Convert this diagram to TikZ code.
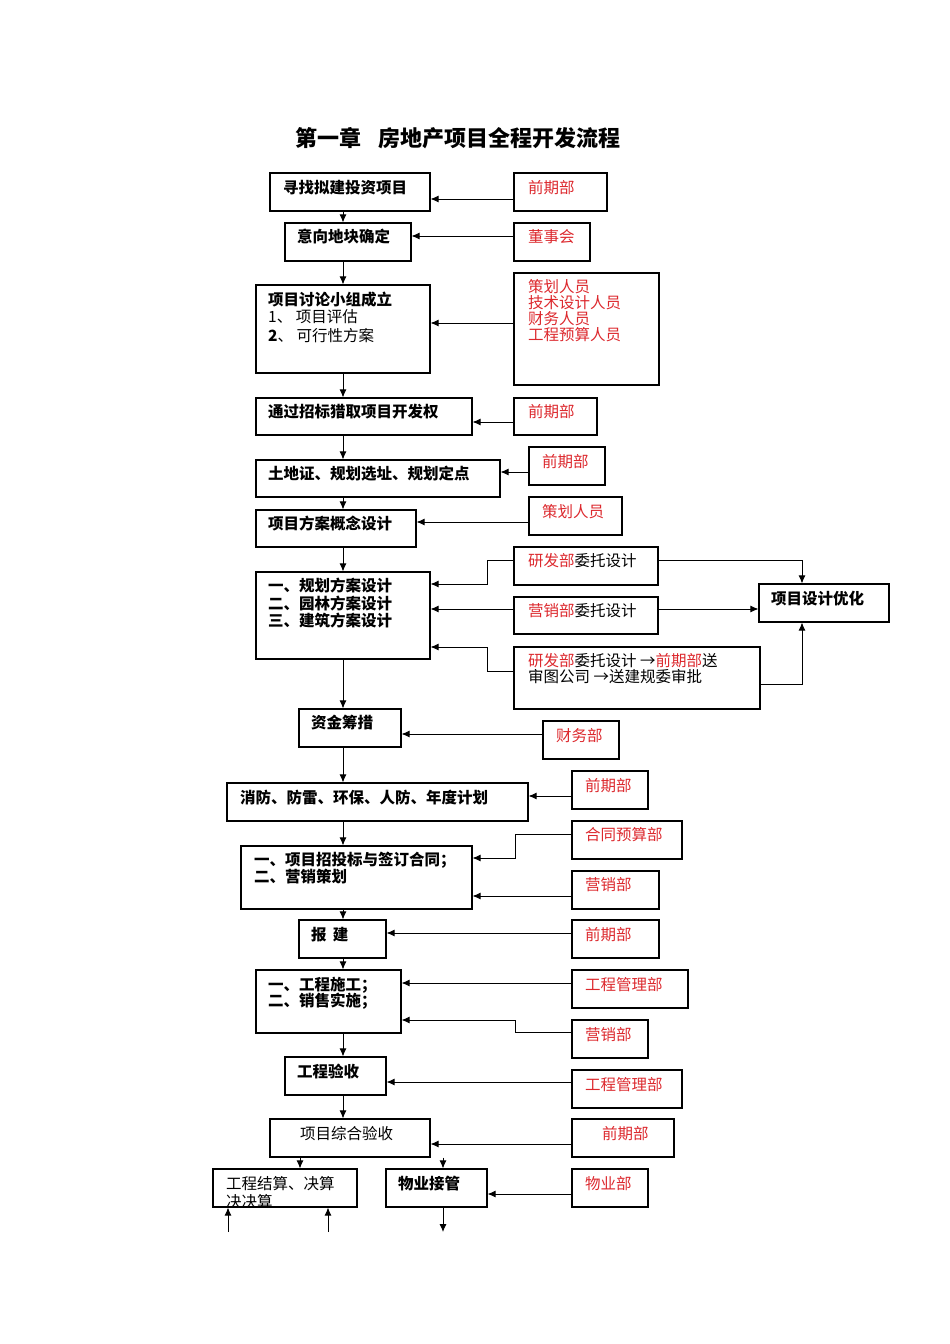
\documentclass[tikz,border=0pt]{standalone}
\usepackage{fontspec}
\setmainfont{Noto Sans CJK SC}
\usetikzlibrary{fit,arrows.meta}
\definecolor{rd}{RGB}{220,40,45}
\begin{document}
\begin{tikzpicture}[x=1pt,y=-1pt,
  box/.style={draw,line width=1.1pt,inner sep=0pt},
  arr/.style={line width=0.9pt,-{Latex[length=8pt,width=7pt]}},
  ln/.style={line width=0.9pt},
  bt/.style={anchor=west,inner sep=0pt,font=\fontsize{15.5}{17}\selectfont\bfseries,align=left},
  rt/.style={anchor=west,inner sep=0pt,font=\fontsize{15.5}{17}\selectfont,text=rd,align=left},
  nt/.style={anchor=west,inner sep=0pt,font=\fontsize{15.5}{17}\selectfont,align=left}]
\useasboundingbox (0,0) rectangle (950,1344);
\node[font=\fontsize{22}{24}\selectfont\bfseries] (title) at (458,138) {第一章\hspace{0.8em}房地产项目全程开发流程};
% left column
\node[box,fit={(270,173)(430,211)}] (A1) {};
\node[box,fit={(285,223)(411,261)}] (A2) {};
\node[box,fit={(256,285)(430,373)}] (A3) {};
\node[box,fit={(256,398)(472,435)}] (A4) {};
\node[box,fit={(256,460)(500,497)}] (A5) {};
\node[box,fit={(256,510)(416,547)}] (A6) {};
\node[box,fit={(256,572)(430,659)}] (A7) {};
\node[box,fit={(759,584)(889,622)}] (A8) {};
\node[box,fit={(299,709)(401,747)}] (A9) {};
\node[box,fit={(227,783)(528,821)}] (A10) {};
\node[box,fit={(241,846)(472,909)}] (A11) {};
\node[box,fit={(299,920)(386,958)}] (A12) {};
\node[box,fit={(256,970)(401,1033)}] (A13) {};
\node[box,fit={(285,1057)(386,1095)}] (A14) {};
\node[box,fit={(270,1119)(430,1157)}] (A15) {};
\node[box,fit={(213,1169)(357,1207)}] (A16) {};
\node[box,fit={(386,1169)(487,1207)}] (A17) {};
% right column
\node[box,fit={(514,173)(607,211)}] (R1) {};
\node[box,fit={(514,223)(590,261)}] (R2) {};
\node[box,fit={(514,273)(659,385)}] (R3) {};
\node[box,fit={(514,398)(597,435)}] (R4) {};
\node[box,fit={(529,447)(605,485)}] (R5) {};
\node[box,fit={(529,497)(622,535)}] (R6) {};
\node[box,fit={(514,547)(658,585)}] (R7a) {};
\node[box,fit={(514,597)(658,634)}] (R7b) {};
\node[box,fit={(514,647)(760,709)}] (R7c) {};
\node[box,fit={(543,721)(619,759)}] (R9) {};
\node[box,fit={(572,771)(648,809)}] (R10) {};
\node[box,fit={(572,821)(682,859)}] (R11a) {};
\node[box,fit={(572,871)(659,909)}] (R11b) {};
\node[box,fit={(572,920)(659,958)}] (R12) {};
\node[box,fit={(572,970)(688,1008)}] (R13a) {};
\node[box,fit={(572,1020)(648,1058)}] (R13b) {};
\node[box,fit={(572,1070)(682,1108)}] (R14) {};
\node[box,fit={(572,1119)(674,1157)}] (R15) {};
\node[box,fit={(572,1169)(648,1207)}] (R17) {};
% texts
\node[bt] at (283,188) {寻找拟建投资项目};
\node[bt] at (297,237) {意向地块确定};
\node[bt] at (268,300) {项目讨论小组成立};
\node[nt] at (268,317) {1、 项目评估};
\node[nt] at (268,336) {\textbf{2}、 可行性方案};
\node[bt] at (268,412) {通过招标猎取项目开发权};
\node[bt] at (268,474) {土地证、规划选址、规划定点};
\node[bt] at (268,524) {项目方案概念设计};
\node[bt] at (268,586) {一、规划方案设计};
\node[bt] at (268,604) {二、园林方案设计};
\node[bt] at (268,621) {三、建筑方案设计};
\node[bt] at (771,599) {项目设计优化};
\node[bt] at (311,723) {资金筹措};
\node[bt] at (240,798) {消防、防雷、环保、人防、年度计划};
\node[bt] at (254,860) {一、项目招投标与签订合同；};
\node[bt] at (254,877) {二、营销策划};
\node[bt] at (311,935) {报\hspace{0.4em}建};
\node[bt] at (268,985) {一、工程施工；};
\node[bt] at (268,1001) {二、销售实施；};
\node[bt] at (297,1072) {工程验收};
\node[nt] at (300,1134) {项目综合验收};
\begin{scope}
\clip (213,1169) rectangle (357,1207);
\node[nt] at (226,1184) {工程结算、决算};
\node[nt] at (226,1202) {决决算};
\end{scope}
\node[bt] at (398,1184) {物业接管};
\node[rt] at (528,188) {前期部};
\node[rt] at (528,237) {董事会};
\node[rt,anchor=north west] at (528,279) {策划人员\\[-1pt]技术设计人员\\[-1pt]财务人员\\[-1pt]工程预算人员};
\node[rt] at (528,412) {前期部};
\node[rt] at (542,462) {前期部};
\node[rt] at (542,512) {策划人员};
\node[nt] at (528,561) {\textcolor{rd}{研发部}委托设计};
\node[nt] at (528,611) {\textcolor{rd}{营销部}委托设计};
\node[nt,anchor=north west] at (528,653) {\textcolor{rd}{研发部}委托设计 →\textcolor{rd}{前期部}送\\[-1pt]审图公司 →送建规委审批};
\node[rt] at (556,736) {财务部};
\node[rt] at (585,786) {前期部};
\node[rt] at (585,835) {合同预算部};
\node[rt] at (585,885) {营销部};
\node[rt] at (585,935) {前期部};
\node[rt] at (585,985) {工程管理部};
\node[rt] at (585,1035) {营销部};
\node[rt] at (585,1085) {工程管理部};
\node[rt] at (602,1134) {前期部};
\node[rt] at (585,1184) {物业部};
% main flow
\foreach \a/\b in {A1/A2,A2/A3,A3/A4,A4/A5,A5/A6,A6/A7,A7/A9,A9/A10,A10/A11,A11/A12,A12/A13,A13/A14,A14/A15}
  \draw[arr] (\a.south -| 343,0) -- (\b.north -| 343,0);
\draw[arr] (A15.south -| 300,0) -- (A16.north -| 300,0);
\draw[arr] (A15.south -| 443,0) -- (A17.north -| 443,0);
\coordinate (u1) at (228,1232); \coordinate (u2) at (328,1232); \coordinate (d1) at (443,1232);
\draw[arr] (u1) -- (A16.south -| u1);
\draw[arr] (u2) -- (A16.south -| u2);
\draw[arr] (A17.south -| d1) -- (d1);
% side inputs
\draw[arr] (R1.west |- 0,199) -- (A1.east |- 0,199);
\draw[arr] (R2.west |- 0,236) -- (A2.east |- 0,236);
\draw[arr] (R3.west |- 0,323) -- (A3.east |- 0,323);
\draw[arr] (R4.west |- 0,422) -- (A4.east |- 0,422);
\draw[arr] (R5.west |- 0,472) -- (A5.east |- 0,472);
\draw[arr] (R6.west |- 0,522) -- (A6.east |- 0,522);
\draw[arr] (R7a.west |- 0,560) -- (487,560) -- (487,584) -- (A7.east |- 0,584);
\draw[arr] (R7b.west |- 0,609) -- (A7.east |- 0,609);
\draw[arr] (R7c.west |- 0,671) -- (487,671) -- (487,647) -- (A7.east |- 0,647);
\draw[arr] (R7a.east |- 0,560) -- (802,560) -- (A8.north -| 802,0);
\draw[arr] (R7b.east |- 0,609) -- (A8.west |- 0,609);
\draw[arr] (R7c.east |- 0,684) -- (802,684) -- (A8.south -| 802,0);
\draw[arr] (R9.west |- 0,734) -- (A9.east |- 0,734);
\draw[arr] (R10.west |- 0,796) -- (A10.east |- 0,796);
\draw[arr] (R11a.west |- 0,834) -- (515,834) -- (515,858) -- (A11.east |- 0,858);
\draw[arr] (R11b.west |- 0,896) -- (A11.east |- 0,896);
\draw[arr] (R12.west |- 0,933) -- (A12.east |- 0,933);
\draw[arr] (R13a.west |- 0,983) -- (A13.east |- 0,983);
\draw[arr] (R13b.west |- 0,1032) -- (515,1032) -- (515,1020) -- (A13.east |- 0,1020);
\draw[arr] (R14.west |- 0,1082) -- (A14.east |- 0,1082);
\draw[arr] (R15.west |- 0,1144) -- (A15.east |- 0,1144);
\draw[arr] (R17.west |- 0,1194) -- (A17.east |- 0,1194);
\end{tikzpicture}
\end{document}
